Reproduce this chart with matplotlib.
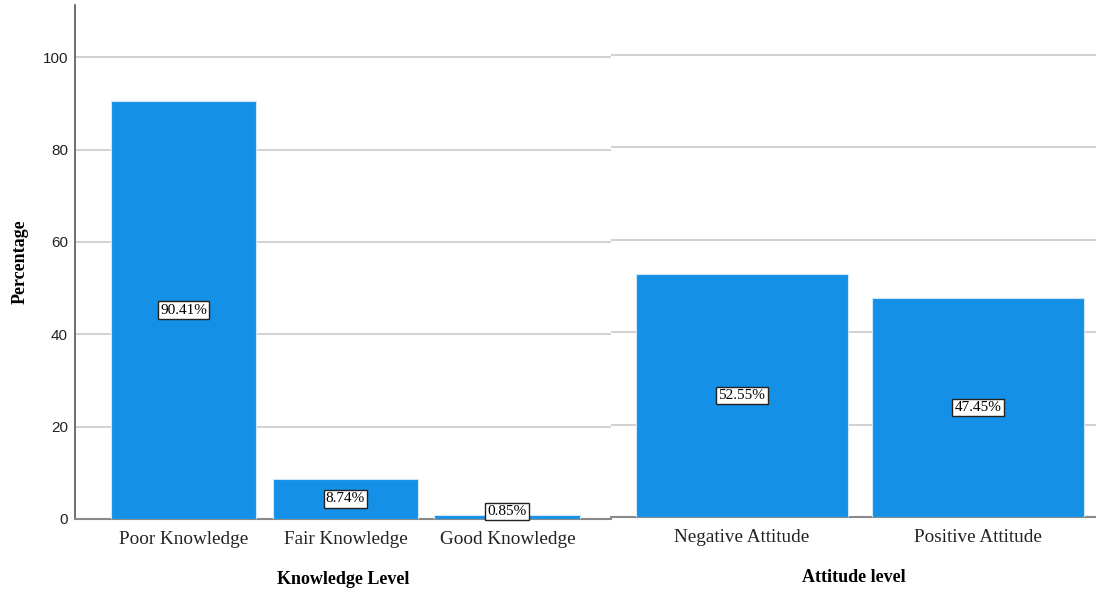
import matplotlib.pyplot as plt

# data
knowledge_levels = ["Poor Knowledge", "Fair Knowledge", "Good Knowledge"]
knowledge_pct = [90.41, 8.74, 0.85]
attitude_levels = ["Negative Attitude", "Positive Attitude"]
attitude_pct = [52.55, 47.45]
y_ticks = [0, 20, 40, 60, 80, 100]

bar_color = "#1490E6"
grid_color = "#D2D2D2"
axis_color = "#8A8A8A"
serif = "Liberation Serif"
sans = "Liberation Sans"

fig = plt.figure(figsize=(10.96, 5.9), dpi=100)
ax1 = fig.add_axes([75 / 1096, 71 / 590, 536 / 1096, 514 / 590])
ax2 = fig.add_axes([611 / 1096, 73 / 590, 485 / 1096, 514 / 590])


def draw_panel(ax, cats, vals, xlim, ylim_top, xlabel, show_y):
    x = list(range(len(cats)))
    ax.bar(x, vals, width=0.9, color=bar_color, edgecolor="#CFE6F8", linewidth=0.8, zorder=3)
    ax.set_xlim(*xlim)
    ax.set_ylim(0, ylim_top)
    ax.set_yticks(y_ticks)
    ax.yaxis.grid(True, color=grid_color, linewidth=1.5, zorder=0)
    ax.set_axisbelow(True)
    ax.set_xticks(x)
    ax.set_xticklabels(cats, family=serif, fontsize=13.8, color="#222222")
    ax.tick_params(axis="x", length=0, pad=9)
    ax.tick_params(axis="y", length=0, pad=5, labelsize=11, labelcolor="#222222")
    for lbl in ax.get_yticklabels():
        lbl.set_family(sans)
    ax.spines["top"].set_visible(False)
    ax.spines["right"].set_visible(False)
    ax.spines["bottom"].set_color(axis_color)
    ax.spines["bottom"].set_linewidth(1.5)
    if show_y:
        ax.spines["left"].set_color("#555555")
        ax.spines["left"].set_linewidth(1.2)
    else:
        ax.spines["left"].set_visible(False)
        ax.set_yticklabels([])
    ax.set_xlabel(xlabel, family=serif, fontsize=13, fontweight="bold", labelpad=16)
    for xi, v in zip(x, vals):
        y = max(v / 2, 1.6)
        ax.text(xi, y, f"{v:.2f}%", ha="center", va="center", family=serif, fontsize=11,
                bbox=dict(boxstyle="square,pad=0.15", fc="white", ec="#222222", lw=1), zorder=5)


draw_panel(ax1, knowledge_levels, knowledge_pct, (-0.67, 2.64), 111.3, "Knowledge Level", True)
draw_panel(ax2, attitude_levels, attitude_pct, (-0.555, 1.5), 111.25, "Attitude level", False)

ax1.set_ylabel("Percentage", family=serif, fontsize=13, fontweight="bold", labelpad=10)

fig.savefig("out.png", dpi=100)
